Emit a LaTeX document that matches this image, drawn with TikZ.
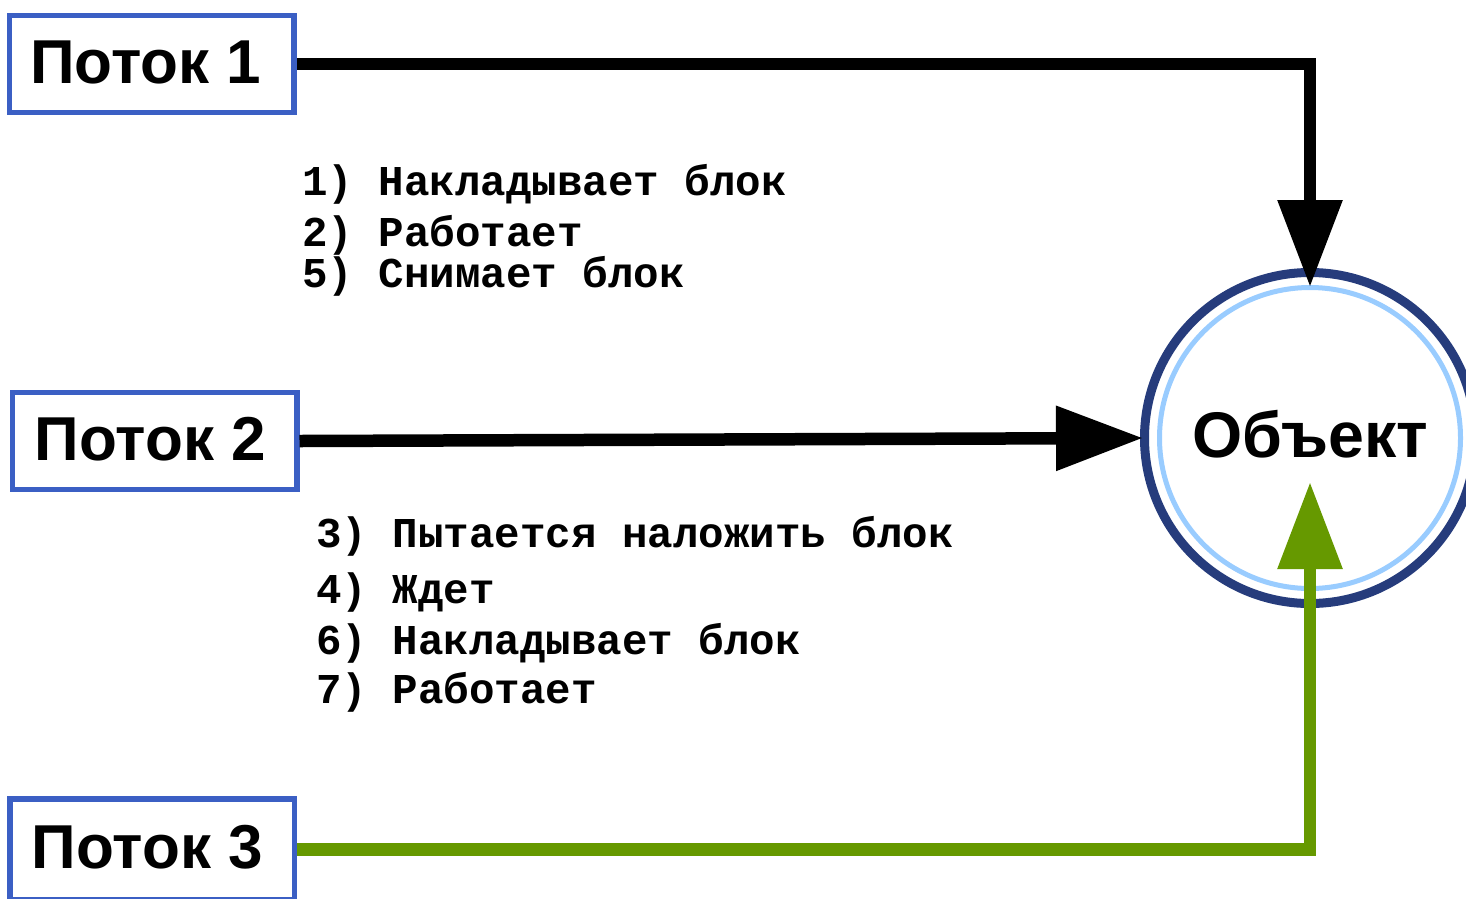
\documentclass[tikz,border=0pt]{standalone}
\usepackage{fontspec}
\usetikzlibrary{arrows.meta}
\newfontfamily\labelfont{Liberation Sans}
\newfontfamily\codefont{Liberation Mono}
\definecolor{boxblue}{HTML}{3B5FC4}
\definecolor{ringnavy}{HTML}{263C7C}
\definecolor{ringlight}{HTML}{99CCFF}
\definecolor{leafgreen}{HTML}{669900}

\begin{document}
\begin{tikzpicture}[x=1pt,y=-1pt,
  threadbox/.style={draw=boxblue, line width=5.5pt, fill=white,
    minimum width=284.5pt, minimum height=97pt, inner sep=0pt,
    font=\labelfont\bfseries\fontsize{62}{66}\selectfont,
    text height=48pt, text depth=10pt},
  objcircle/.style={circle, draw=ringnavy, line width=9pt, fill=white,
    minimum size=331pt, inner sep=0pt,
    font=\labelfont\bfseries\fontsize{64.5}{68}\selectfont,
    text height=48pt, text depth=10pt},
  steptext/.style={anchor=base west, inner sep=0pt,
    font=\codefont\bfseries\fontsize{42.5}{45}\selectfont},
  flow/.style={line width=12.5pt, -{Triangle[width=62pt,length=87pt]}},
]
\useasboundingbox (0,0) rectangle (1466,898);
\clip (0,0) rectangle (1466,898);

% shared object
\node[objcircle] (obj) at (1310,438) {Объект};
\draw[ringlight, line width=5pt] (obj.center) circle[radius=150.5];

% threads (labels sit a little left of the box centre)
\node[threadbox] (b1) at (151.75,64) {Поток 1\kern12pt};
\node[threadbox] (b2) at (154.5,441) {Поток 2\kern8pt};
\node[threadbox, minimum height=101pt] (b3) at (152,849.5) {Поток 3\kern9pt};

% arrow tip positions on the object
\coordinate (t1) at (1310,287);
\coordinate (t2) at (1143,438);
\coordinate (t3) at (1310,482);

% connectors
\draw[flow, black] (b1.east) -| (t1);
\draw[flow, black] (b2.east) -- (t2);
\draw[flow, leafgreen] (b3.east) -| (t3);

% steps of thread 1
\node[steptext] (s1) at (302,195) {1) Накладывает блок};
\node[steptext] (s2) at (302,246) {2) Работает};
\node[steptext] (s5) at (302,287) {5) Снимает блок};

% steps of thread 2
\node[steptext] (s3) at (316,547) {3) Пытается наложить блок};
\node[steptext] (s4) at (316,603) {4) Ждет};
\node[steptext] (s6) at (316,654) {6) Накладывает блок};
\node[steptext] (s7) at (316,703) {7) Работает};
\end{tikzpicture}
\end{document}
